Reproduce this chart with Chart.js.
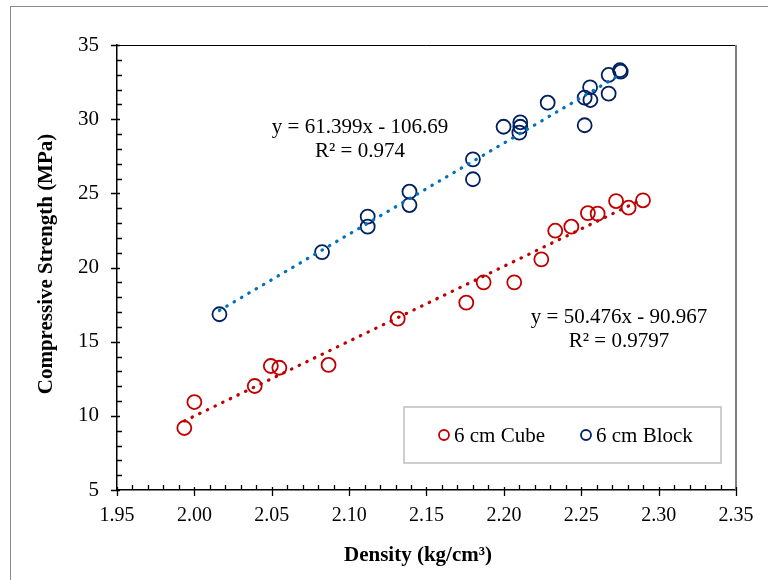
<!DOCTYPE html>
<html>
<head>
<meta charset="utf-8">
<script src="https://cdn.jsdelivr.net/npm/chart.js@4"></script>
<style>
  html, body { margin: 0; padding: 0; background: #fff; }
  #wrap { width: 768px; height: 580px; position: relative; }
</style>
</head>
<body>
<div id="wrap"><canvas id="chart" width="768" height="580"></canvas></div>
<script>
// --- data ---
const cubeDensity = [1.9935, 2.000, 2.039, 2.0494, 2.0549, 2.0867, 2.1314, 2.1757, 2.1869, 2.2067,
                     2.2242, 2.2332, 2.2436, 2.2543, 2.2606, 2.2725, 2.2806, 2.2899];
const cubeStrength = [9.18, 10.93, 12.01, 13.36, 13.24, 13.43, 16.55, 17.63, 19.0, 19.0,
                      20.55, 22.48, 22.75, 23.67, 23.63, 24.48, 24.03, 24.53];

const blockDensity = [2.0162, 2.0825, 2.112, 2.112, 2.139, 2.139, 2.180, 2.180, 2.1998, 2.2106,
                      2.2106, 2.210, 2.2283, 2.2522, 2.2557, 2.2559, 2.2522, 2.2677, 2.2677, 2.275, 2.2755];
const blockStrength = [16.85, 21.04, 23.43, 22.75, 25.11, 24.21, 27.29, 25.95, 29.49, 29.79,
                       29.49, 29.09, 31.11, 31.45, 32.15, 31.29, 29.59, 32.98, 31.72, 33.3, 33.2];

// trendline coefficients as printed on the chart
const cubeFit = { slope: 50.476, intercept: -90.967, label: 'y = 50.476x - 90.967', r2: 'R² = 0.9797' };
const blockFit = { slope: 61.399, intercept: -106.69, label: 'y = 61.399x - 106.69', r2: 'R² = 0.974' };

const seriesNames = ['6 cm Cube', '6 cm Block'];
const xTicks = [1.95, 2.00, 2.05, 2.10, 2.15, 2.20, 2.25, 2.30, 2.35];
const yTicks = [5, 10, 15, 20, 25, 30, 35];

const RED = '#C00000';
const NAVY = '#002060';
const BLUE = '#0070C0';
const SERIF = "'Liberation Serif', 'Times New Roman', serif";

function toPoints(xs, ys) { return xs.map((x, i) => ({ x: x, y: ys[i] })); }
function fitLine(xs, fit) {
  const lo = Math.min(...xs), hi = Math.max(...xs);
  return [{ x: lo, y: fit.slope * lo + fit.intercept }, { x: hi, y: fit.slope * hi + fit.intercept }];
}

// frame, plot border, ticks, titles, equations, legend
const decor = {
  id: 'decor',
  beforeDraw(chart) {
    const c = chart.ctx;
    c.save();
    c.fillStyle = '#fff';
    c.fillRect(0, 0, chart.width, chart.height);
    c.strokeStyle = '#8a8a8a';
    c.lineWidth = 1;
    c.strokeRect(10.5, 6.5, 900, 900);
    c.restore();
  },
  afterDraw(chart) {
    const c = chart.ctx;
    const a = chart.chartArea;
    const xs = chart.scales.x, ys = chart.scales.y;
    c.save();
    // top + right border
    c.strokeStyle = '#000';
    c.lineWidth = 1;
    c.beginPath(); c.moveTo(a.left, a.top + 0.5); c.lineTo(a.right, a.top + 0.5); c.stroke();
    c.strokeStyle = '#808080';
    c.lineWidth = 2;
    c.beginPath(); c.moveTo(a.right, a.top); c.lineTo(a.right, a.bottom); c.stroke();

    // ticks
    c.strokeStyle = '#000';
    c.lineWidth = 1.3;
    c.beginPath();
    for (let v = 5; v <= 35.001; v += 1) {
      const py = Math.round(ys.getPixelForValue(v)) + 0.5;
      if (Math.abs(v % 5) < 1e-6) { c.moveTo(a.left - 6, py); c.lineTo(a.left + 3, py); }
      else { c.moveTo(a.left, py); c.lineTo(a.left + 5, py); }
    }
    for (let i = 0; i <= 40; i++) {
      const v = 1.95 + i * 0.01;
      const px = Math.round(xs.getPixelForValue(v)) + 0.5;
      if (i % 5 === 0) { c.moveTo(px, a.bottom - 3); c.lineTo(px, a.bottom + 6); }
      else { c.moveTo(px, a.bottom); c.lineTo(px, a.bottom - 5); }
    }
    c.stroke();

    // axis titles
    c.fillStyle = '#000';
    c.font = 'bold 21px ' + SERIF;
    c.textAlign = 'center';
    c.textBaseline = 'middle';
    c.fillText('Density (kg/cm³)', 418, 556);
    c.save();
    c.translate(47, 264);
    c.rotate(-Math.PI / 2);
    c.fillText('Compressive Strength (MPa)', 0, 0);
    c.restore();

    // trendline equations
    c.font = '21px ' + SERIF;
    c.fillText(blockFit.label, 360, 127);
    c.fillText(blockFit.r2, 360, 151);
    c.fillText(cubeFit.label, 619, 317);
    c.fillText(cubeFit.r2, 619, 341);

    // legend
    c.strokeStyle = '#bfbfbf';
    c.lineWidth = 1.5;
    c.fillStyle = '#fff';
    c.fillRect(404, 407, 317, 56);
    c.strokeRect(404, 407, 317, 56);
    const items = [{ name: seriesNames[0], color: RED, mx: 444, tx: 454 },
                   { name: seriesNames[1], color: NAVY, mx: 586, tx: 596 }];
    c.textAlign = 'left';
    c.fillStyle = '#000';
    items.forEach(it => {
      c.strokeStyle = it.color;
      c.lineWidth = 1.8;
      c.beginPath(); c.arc(it.mx, 435, 5, 0, Math.PI * 2); c.stroke();
      c.fillText(it.name, it.tx, 436);
    });
    c.restore();
  }
};

const ctx = document.getElementById('chart').getContext('2d');
new Chart(ctx, {
  type: 'scatter',
  data: {
    datasets: [
      { label: 'cube trend', data: fitLine(cubeDensity, cubeFit), showLine: true, pointRadius: 0,
        borderColor: RED, borderWidth: 3.2, borderDash: [0.5, 8], borderCapStyle: 'round', order: 0 },
      { label: 'block trend', data: fitLine(blockDensity, blockFit), showLine: true, pointRadius: 0,
        borderColor: BLUE, borderWidth: 3.2, borderDash: [0.5, 8], borderCapStyle: 'round', order: 0 },
      { label: seriesNames[0], data: toPoints(cubeDensity, cubeStrength), pointRadius: 7,
        pointBorderWidth: 1.8, pointBorderColor: RED, pointBackgroundColor: 'rgba(0,0,0,0)', order: 1 },
      { label: seriesNames[1], data: toPoints(blockDensity, blockStrength), pointRadius: 7,
        pointBorderWidth: 1.8, pointBorderColor: NAVY, pointBackgroundColor: 'rgba(0,0,0,0)', order: 1 }
    ]
  },
  options: {
    responsive: false,
    animation: false,
    events: [],
    layout: { padding: { left: 0, top: 45, right: 32, bottom: 0 } },
    plugins: { legend: { display: false }, tooltip: { enabled: false } },
    scales: {
      x: {
        type: 'linear', min: 1.95, max: 2.35,
        afterFit: s => { s.height = 90; },
        afterBuildTicks: s => { s.ticks = xTicks.map(v => ({ value: v })); },
        grid: { display: false, drawTicks: false },
        border: { display: true, color: '#000', width: 1.5 },
        ticks: { color: '#000', padding: 14, maxRotation: 0, font: { family: SERIF, size: 20 },
                 callback: v => Number(v).toFixed(2) }
      },
      y: {
        type: 'linear', min: 5, max: 35,
        afterFit: s => { s.width = 117; },
        afterBuildTicks: s => { s.ticks = yTicks.map(v => ({ value: v })); },
        grid: { display: false, drawTicks: false },
        border: { display: true, color: '#000', width: 1.5 },
        ticks: { color: '#000', padding: 18, font: { family: SERIF, size: 21 } }
      }
    }
  },
  plugins: [decor]
});
</script>
</body>
</html>
